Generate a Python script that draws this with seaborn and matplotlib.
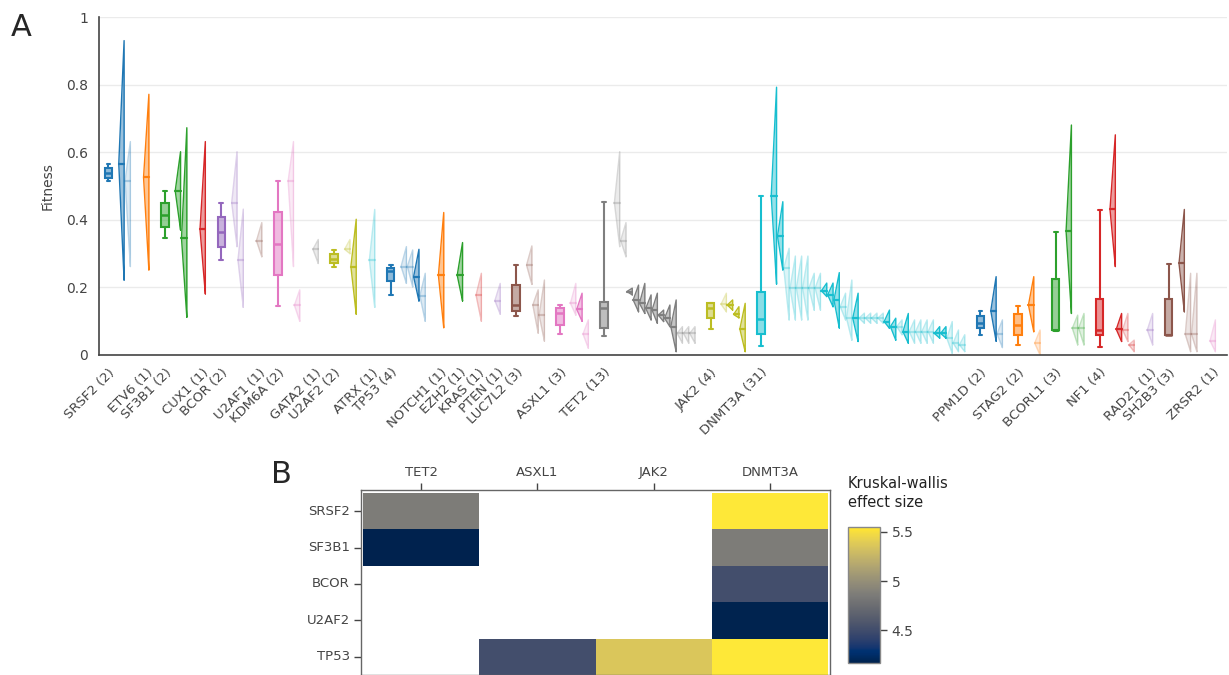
import numpy as np
import pandas as pd
import seaborn as sns
import matplotlib
matplotlib.use("Agg")
import matplotlib.pyplot as plt

#%% Panel A data
genes = ["SRSF2", "ETV6", "SF3B1", "CUX1", "BCOR", "U2AF1", "KDM6A", "GATA2",
         "U2AF2", "ATRX", "TP53", "NOTCH1", "EZH2", "KRAS", "PTEN", "LUC7L2",
         "ASXL1", "TET2", "JAK2", "DNMT3A", "PPM1D", "STAG2", "BCORL1", "NF1",
         "RAD21", "SH2B3", "ZRSR2"]
counts = [2, 1, 2, 1, 2, 1, 2, 1, 2, 1, 4, 1, 1, 1, 1, 3, 3, 13, 4, 31, 2, 2, 3, 4, 1, 3, 1]

# box stats, genes with more than one variant (in gene order)
box_lo = [0.515, 0.345, 0.28, 0.145, 0.26, 0.178, 0.115, 0.062, 0.057, 0.076, 0.027, 0.06, 0.03, 0.07, 0.025, 0.06]
box_q1 = [0.525, 0.38, 0.32, 0.237, 0.272, 0.22, 0.13, 0.09, 0.079, 0.109, 0.061, 0.08, 0.06, 0.075, 0.06, 0.06]
box_med = [0.54, 0.415, 0.365, 0.33, 0.285, 0.25, 0.148, 0.125, 0.138, 0.138, 0.107, 0.095, 0.09, 0.075, 0.075, 0.06]
box_q3 = [0.555, 0.45, 0.41, 0.423, 0.30, 0.258, 0.207, 0.14, 0.158, 0.153, 0.188, 0.115, 0.12, 0.225, 0.165, 0.165]
box_hi = [0.565, 0.485, 0.45, 0.515, 0.31, 0.267, 0.266, 0.148, 0.452, 0.153, 0.472, 0.13, 0.145, 0.365, 0.43, 0.27]

# one half violin per variant (min, median, max, highlighted)
vio_lo = [
    [0.222, 0.262], [0.252], [0.37, 0.112], [0.181], [0.321, 0.141], [0.291],
    [0.262, 0.10], [0.271], [0.30, 0.121], [0.141], [0.212, 0.202, 0.16, 0.10],
    [0.081], [0.16], [0.10], [0.121], [0.209, 0.065, 0.041], [0.118, 0.10, 0.02],
    [0.321, 0.291, 0.178, 0.128, 0.123, 0.104, 0.094, 0.099, 0.084, 0.01, 0.035, 0.035, 0.035],
    [0.128, 0.133, 0.11, 0.01],
    [0.21, 0.252, 0.104, 0.104, 0.104, 0.104, 0.133, 0.133, 0.173, 0.143, 0.08, 0.104, 0.044, 0.04,
     0.094, 0.094, 0.094, 0.094, 0.079, 0.044, 0.06, 0.035, 0.035, 0.035, 0.035, 0.035, 0.05, 0.05,
     0.005, 0.01, 0.01],
    [0.041, 0.022], [0.069, 0.0], [0.123, 0.03, 0.03], [0.262, 0.04, 0.04, 0.01], [0.03],
    [0.128, 0.01, 0.01], [0.01]]
vio_med = [
    [0.566, 0.516], [0.526], [0.486, 0.346], [0.372], [0.451, 0.281], [0.338],
    [0.515, 0.147], [0.313], [0.313, 0.262], [0.281], [0.262, 0.262, 0.232, 0.175],
    [0.236], [0.236], [0.177], [0.161], [0.266, 0.148, 0.118], [0.153, 0.135, 0.062],
    [0.451, 0.339, 0.188, 0.163, 0.153, 0.138, 0.133, 0.118, 0.109, 0.084, 0.064, 0.064, 0.064],
    [0.15, 0.148, 0.12, 0.077],
    [0.472, 0.352, 0.257, 0.198, 0.198, 0.198, 0.198, 0.198, 0.19, 0.178, 0.163, 0.143, 0.109, 0.109,
     0.109, 0.109, 0.109, 0.109, 0.099, 0.084, 0.084, 0.069, 0.069, 0.069, 0.069, 0.069, 0.064, 0.064,
     0.049, 0.035, 0.03],
    [0.131, 0.062], [0.148, 0.035], [0.367, 0.079, 0.079], [0.431, 0.076, 0.074, 0.03], [0.074],
    [0.271, 0.061, 0.061], [0.042]]
vio_hi = [
    [0.931, 0.632], [0.772], [0.602, 0.673], [0.632], [0.602, 0.432], [0.392],
    [0.632, 0.193], [0.342], [0.342, 0.402], [0.431], [0.321, 0.311, 0.313, 0.242],
    [0.422], [0.333], [0.242], [0.212], [0.323, 0.193, 0.222], [0.212, 0.183, 0.104],
    [0.602, 0.392, 0.198, 0.207, 0.212, 0.178, 0.183, 0.133, 0.148, 0.163, 0.084, 0.084, 0.084],
    [0.183, 0.163, 0.143, 0.153],
    [0.793, 0.454, 0.316, 0.293, 0.293, 0.293, 0.242, 0.242, 0.213, 0.213, 0.244, 0.183, 0.222, 0.183,
     0.124, 0.124, 0.124, 0.124, 0.133, 0.109, 0.104, 0.123, 0.104, 0.104, 0.104, 0.104, 0.084, 0.084,
     0.099, 0.074, 0.06],
    [0.232, 0.104], [0.232, 0.074], [0.681, 0.118, 0.123], [0.652, 0.123, 0.123, 0.044], [0.123],
    [0.431, 0.242, 0.242], [0.104]]
vio_hl = [
    [1, 0], [1], [1, 1], [1], [0, 0], [0], [0, 0], [0], [0, 1], [0], [0, 0, 1, 0],
    [1], [1], [0], [0], [0, 0, 0], [0, 1, 0],
    [0, 0, 1, 1, 1, 1, 1, 1, 1, 1, 0, 0, 0],
    [0, 1, 1, 1],
    [1, 1, 0, 0, 0, 0, 0, 0, 1, 1, 1, 0, 0, 1, 0, 0, 0, 0, 1, 1, 0, 1, 0, 0, 0, 0, 1, 1, 0, 0, 0],
    [1, 0], [1, 0], [1, 0, 0], [1, 1, 0, 0], [0], [1, 0, 0], [0]]

#%% Panel B data
kw_rows = ["SRSF2", "SF3B1", "BCOR", "U2AF2", "TP53"]
kw_cols = ["TET2", "ASXL1", "JAK2", "DNMT3A"]
kw_effect = [[4.86, np.nan, np.nan, 5.55],
             [4.17, np.nan, np.nan, 4.86],
             [np.nan, np.nan, np.nan, 4.52],
             [np.nan, np.nan, np.nan, 4.18],
             [np.nan, 4.52, 5.36, 5.55]]

#%% Style
sns.set_style("white")
plt.rcParams["font.family"] = ["DejaVu Sans"]
grey = "#444444"
W, H = 1229, 675

fig = plt.figure(figsize=(W / 100, H / 100), dpi=100)

#%% Panel A
ax = fig.add_axes([99 / W, 1 - 355 / H, 1128 / W, 337.7 / H])
pal = sns.color_palette("tab10")

# slot layout: box + gap + one slot per variant + gap
pos = []
p = 1.5
for n in counts:
    pos.append(p)
    p += n + 4 if n > 1 else 3

w = 0.85
box_pos, box_cols = [], []
for i, (g, n) in enumerate(zip(genes, counts)):
    col = pal[i % 10]
    if n > 1:
        box_pos.append(pos[i])
        box_cols.append(col)
        xs = [pos[i] + 2.5 + k for k in range(n)]
    else:
        xs = [pos[i] + 0.45]
    for x, lo, md, hi, hl in zip(xs, vio_lo[i], vio_med[i], vio_hi[i], vio_hl[i]):
        la, fa = (1.0, 0.45) if hl else (0.3, 0.15)
        ax.fill_betweenx([lo, md, hi], [x, x - w, x], x, color=col, alpha=fa, lw=0)
        ax.plot([x, x - w, x, x], [lo, md, hi, lo], color=col, alpha=la, lw=1.0)
        ax.plot([x - w, x], [md, md], color=col, alpha=la, lw=1.6)

stats = [dict(whislo=a, q1=b, med=c, q3=d, whishi=e, fliers=[])
         for a, b, c, d, e in zip(box_lo, box_q1, box_med, box_q3, box_hi)]
bp = ax.bxp(stats, positions=box_pos, widths=1.2, capwidths=0.6, patch_artist=True,
            showfliers=False, manage_ticks=False)
for k, col in enumerate(box_cols):
    bp["boxes"][k].set_facecolor((*col, 0.5))
    bp["boxes"][k].set_edgecolor(col)
    bp["boxes"][k].set_linewidth(1.5)
    bp["medians"][k].set_color(col)
    bp["medians"][k].set_linewidth(1.8)
    for art in bp["whiskers"][2 * k:2 * k + 2] + bp["caps"][2 * k:2 * k + 2]:
        art.set_color(col)
        art.set_linewidth(1.5)

ax.set_xlim(0, 179.8)
ax.set_ylim(0, 1)
ax.set_xticks(pos)
ax.set_xticklabels([f"{g} ({n})" for g, n in zip(genes, counts)], rotation=45,
                   ha="right", rotation_mode="anchor", fontsize=9.5, color=grey)
ax.set_yticks([0, 0.2, 0.4, 0.6, 0.8, 1])
ax.set_yticklabels(["0", "0.2", "0.4", "0.6", "0.8", "1"], fontsize=10, color=grey)
ax.set_ylabel("Fitness", fontsize=10, color=grey, labelpad=8)
ax.yaxis.grid(True, color="#ebebeb", lw=1)
ax.set_axisbelow(True)
for s in ["top", "right"]:
    ax.spines[s].set_visible(False)
for s in ["left", "bottom"]:
    ax.spines[s].set_color(grey)
    ax.spines[s].set_linewidth(1.2)
ax.tick_params(direction="out", length=5, width=1, color=grey, pad=3)

#%% Panel B heatmap
hm = pd.DataFrame(kw_effect, index=kw_rows, columns=kw_cols)
ax2 = fig.add_axes([361 / W, 0, 469 / W, 185 / H])
cax = fig.add_axes([848 / W, 12 / H, 32 / W, 136 / H])
sns.heatmap(hm, ax=ax2, cbar_ax=cax, cmap="cividis", linewidths=0,
            cbar_kws={"ticks": [4.5, 5, 5.5]})
ax2.set_xlim(-0.017, 4.017)
ax2.set_ylim(5.0, -0.08)
ax2.xaxis.tick_top()
ax2.set_xticklabels(kw_cols, fontsize=9.5, color=grey, rotation=0)
ax2.set_yticklabels(kw_rows, fontsize=9.5, color=grey, rotation=0)
ax2.tick_params(direction="out", length=5, width=1, color=grey, top=True, left=True, pad=3)
for s in ax2.spines.values():
    s.set_visible(True)
    s.set_color("#666666")
    s.set_linewidth(1)

cbar = ax2.collections[0].colorbar
cbar.outline.set_edgecolor("#888888")
cbar.outline.set_linewidth(1)
cbar.ax.set_yticklabels(["4.5", "5", "5.5"], fontsize=10, color=grey)
cbar.ax.tick_params(direction="out", length=5, width=1, color=grey)
fig.text(848 / W, 1 - 476 / H, "Kruskal-wallis\neffect size", fontsize=10.5,
         color="#222222", ha="left", va="top", linespacing=1.3)

#%% Panel letters
fig.text(11 / W, 1 - 13 / H, "A", fontsize=22, ha="left", va="top")
fig.text(271 / W, 1 - 460 / H, "B", fontsize=22, ha="left", va="top")

fig.savefig("out.png", dpi=100)
